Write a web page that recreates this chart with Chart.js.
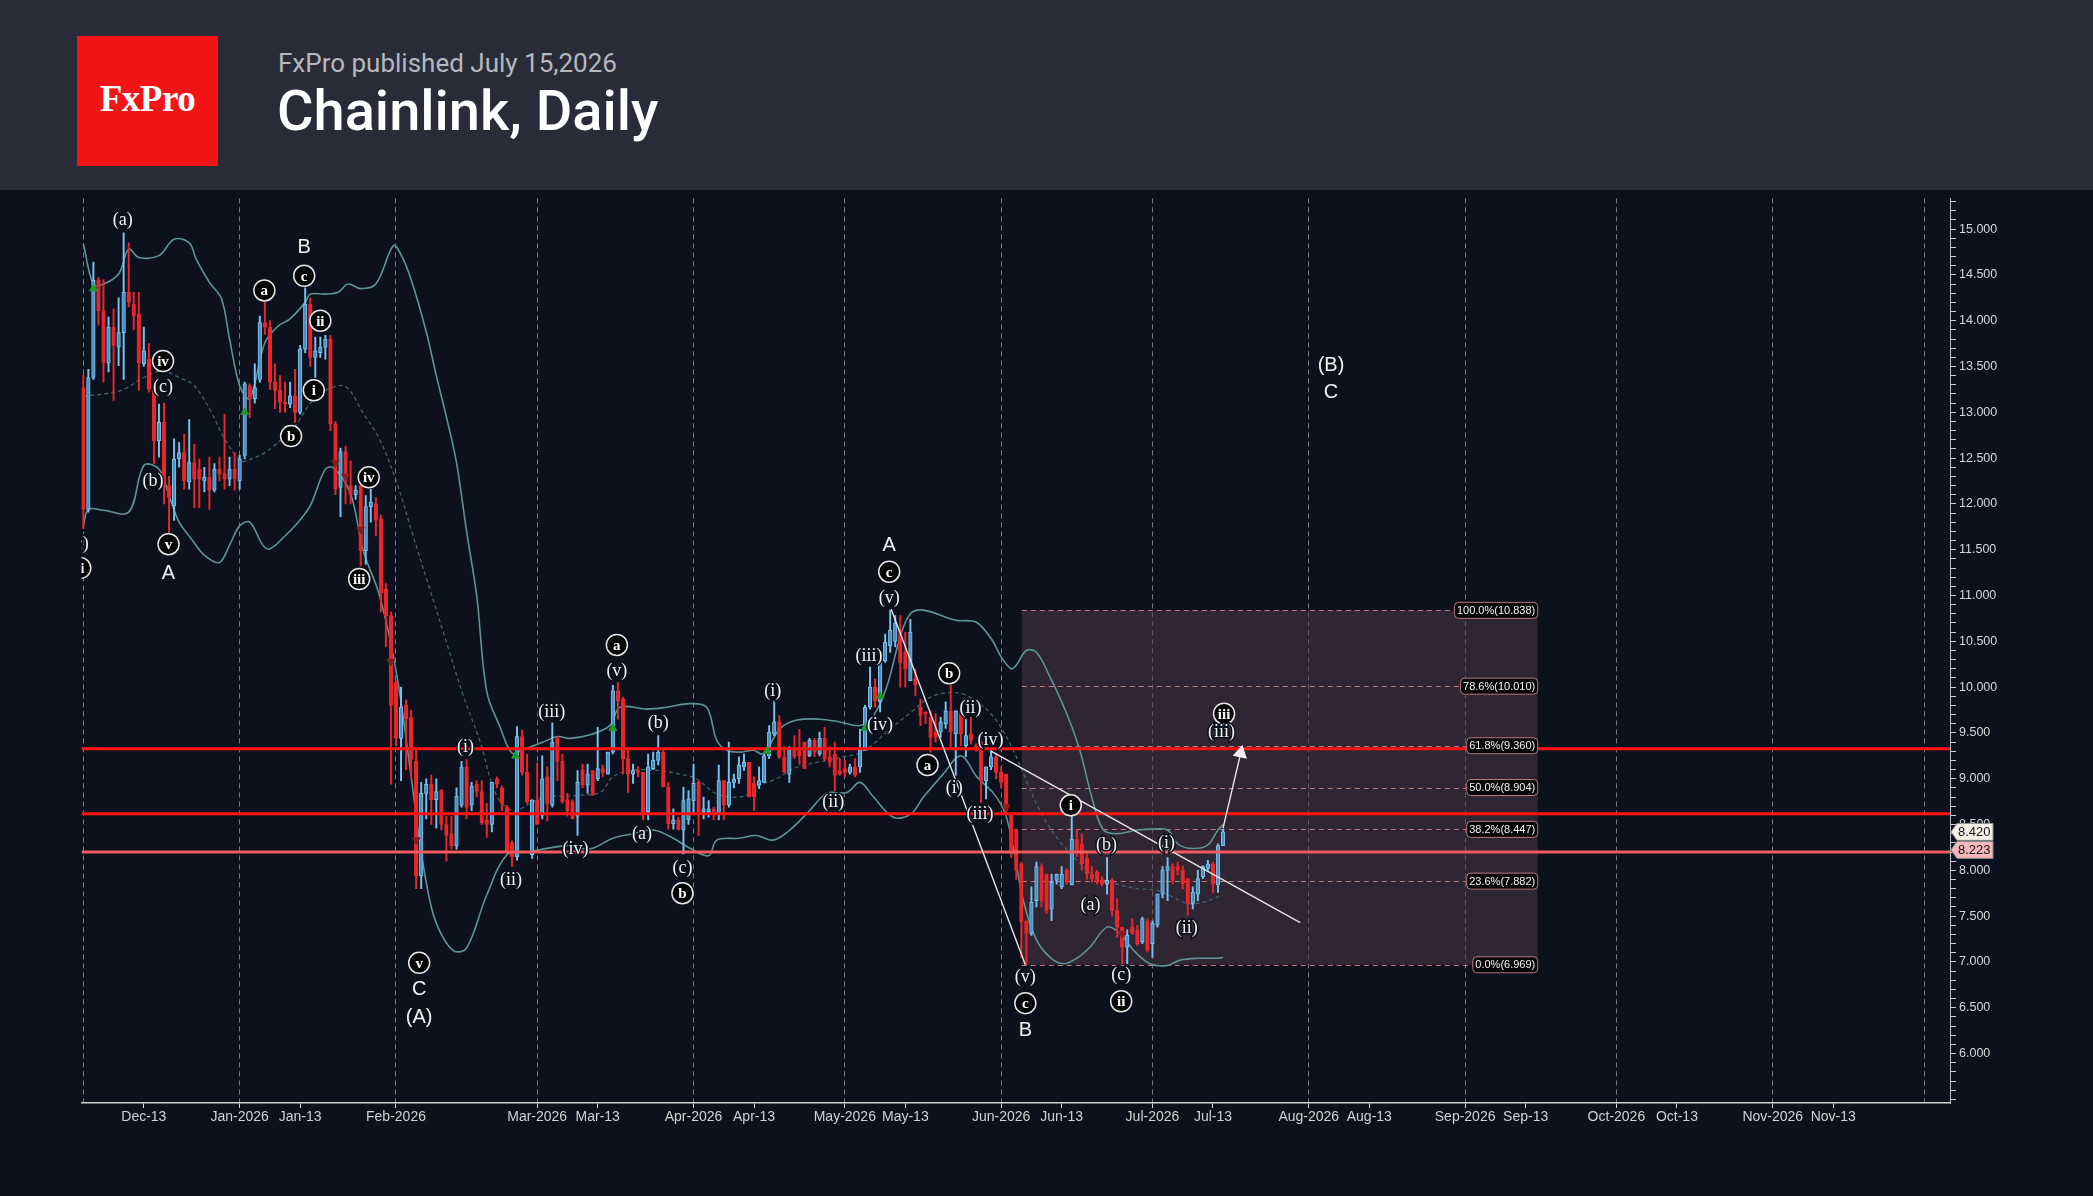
<!DOCTYPE html>
<html>
<head>
<meta charset="utf-8">
<script src="https://cdn.jsdelivr.net/npm/chart.js@4.4.1/dist/chart.umd.min.js"></script>
<style>
  html, body { margin:0; padding:0; background:#0c111d; width:2093px; height:1196px; overflow:hidden; }
  #head { position:absolute; left:0; top:0; width:2093px; height:190px; background:#292c38; }
  #logo { position:absolute; left:77px; top:36px; width:141px; height:130px; background:#f21416; color:#fff;
          font-family:'Liberation Serif','DejaVu Serif',serif; font-weight:bold; font-size:37px; display:flex; align-items:center;
          justify-content:center; box-sizing:border-box; padding-bottom:5px; letter-spacing:-0.5px; }
  #sub { position:absolute; left:278px; top:48px; color:#b6b8be; font-family:Roboto,sans-serif; font-size:26px; line-height:30px; white-space:nowrap; }
  #title { position:absolute; left:277px; top:79px; color:#fff; font-family:Roboto,sans-serif; font-weight:500; font-size:56px; line-height:64px; white-space:nowrap; }
  #wrap { position:absolute; left:0; top:190px; width:2093px; height:1006px; }
</style>
</head>
<body>
<div id="head">
  <div id="logo">FxPro</div>
  <div id="sub">FxPro published July 15,2026</div>
  <div id="title">Chainlink, Daily</div>
</div>
<div id="wrap"><canvas id="chart" width="2093" height="1006"></canvas></div>
<script>
// daily candles, day 0 = 1 Dec 2025
const open = [
  13.27, 11.94, 13.38, 14.45, 14.11, 13.54, 13.93, 13.71, 13.87, 14.31,
  14.18, 14.07, 13.53, 13.58, 13.24, 12.69, 12.89, 12.20, 11.98, 12.49,
  12.56, 12.24, 12.45, 12.38, 12.25, 12.29, 12.15, 12.38, 12.33, 12.27,
  12.38, 12.25, 12.53, 13.29, 13.15, 13.36, 13.98, 13.93, 13.33, 13.24,
  13.11, 13.09, 13.18, 13.00, 13.69, 14.18, 13.60, 13.65, 13.71, 13.80,
  12.87, 12.18, 12.57, 12.20, 12.10, 12.20, 11.49, 11.97, 12.00, 11.84,
  11.07, 10.78, 10.05, 9.44, 9.80, 9.67, 9.19, 7.94, 8.84, 8.94,
  8.77, 8.88, 8.50, 8.40, 8.27, 8.71, 9.13, 8.71, 8.94, 8.86,
  8.55, 8.50, 9.00, 8.90, 8.69, 8.30, 8.15, 9.46, 9.07, 8.17,
  8.77, 8.60, 9.02, 8.71, 9.44, 9.19, 8.77, 8.75, 8.59, 9.10,
  8.93, 9.09, 9.00, 9.11, 9.05, 9.29, 9.96, 9.87, 9.22, 9.05,
  9.09, 9.07, 8.64, 9.11, 9.20, 9.29, 8.91, 8.51, 8.55, 8.44,
  8.55, 8.76, 8.96, 8.64, 8.64, 8.67, 8.62, 8.98, 8.71, 8.96,
  9.00, 9.13, 9.18, 8.95, 8.93, 8.96, 9.25, 9.49, 9.62, 9.24,
  9.05, 9.31, 9.31, 9.40, 9.25, 9.42, 9.27, 9.44, 9.24, 9.27,
  9.09, 9.11, 9.07, 9.13, 9.13, 9.31, 9.78, 10.00, 9.84, 10.29,
  10.45, 10.50, 10.62, 10.38, 10.07, 10.09, 9.78, 9.73, 9.67, 9.51,
  9.51, 9.60, 9.74, 9.49, 9.73, 9.36, 9.49, 9.36, 9.40, 8.98,
  9.13, 9.24, 9.07, 9.05, 8.62, 8.45, 8.07, 7.45, 7.31, 7.67,
  8.04, 7.96, 7.58, 7.89, 7.82, 8.00, 7.84, 8.34, 8.29, 8.13,
  7.96, 7.98, 7.89, 7.85, 7.89, 7.56, 7.38, 7.16, 7.38, 7.35,
  7.22, 7.45, 7.20, 7.40, 7.74, 8.00, 8.04, 8.04, 8.00, 7.91,
  7.64, 7.74, 7.93, 8.02, 8.07, 7.84, 8.27
];
const high = [
  13.41, 13.47, 14.64, 14.47, 14.45, 14.04, 14.13, 14.25, 14.96, 14.85,
  14.31, 14.31, 13.93, 13.75, 13.24, 13.09, 13.10, 12.30, 12.71, 12.67,
  12.76, 12.92, 12.65, 12.49, 12.40, 12.51, 12.44, 12.51, 12.98, 12.51,
  12.56, 12.53, 13.33, 13.31, 13.53, 14.05, 14.20, 14.00, 13.53, 13.40,
  13.33, 13.33, 13.47, 13.73, 14.36, 14.25, 13.82, 13.82, 13.84, 13.84,
  12.90, 12.61, 12.63, 12.47, 12.20, 12.22, 12.09, 12.16, 12.07, 11.88,
  11.13, 10.82, 10.07, 10.00, 9.86, 9.75, 9.32, 8.96, 9.00, 9.04,
  9.00, 8.88, 8.59, 8.59, 8.90, 9.19, 9.21, 8.96, 8.98, 8.98,
  8.73, 8.96, 9.02, 8.92, 8.71, 8.32, 9.57, 9.53, 9.27, 8.77,
  9.17, 9.25, 9.13, 9.61, 9.46, 9.27, 8.84, 8.77, 9.09, 9.16,
  9.16, 9.09, 9.56, 9.15, 9.29, 10.02, 10.05, 9.89, 9.31, 9.16,
  9.13, 9.07, 9.27, 9.29, 9.47, 9.31, 8.96, 8.67, 8.58, 8.91,
  8.87, 9.16, 8.98, 8.80, 8.76, 8.69, 9.15, 8.98, 9.40, 9.05,
  9.24, 9.27, 9.18, 9.02, 9.13, 9.29, 9.58, 9.85, 9.69, 9.35,
  9.35, 9.47, 9.54, 9.40, 9.44, 9.44, 9.51, 9.56, 9.35, 9.40,
  9.22, 9.20, 9.16, 9.22, 9.54, 9.80, 10.22, 10.09, 10.31, 10.58,
  10.84, 10.78, 10.78, 10.60, 10.74, 10.20, 9.87, 9.73, 9.74, 9.71,
  9.67, 9.84, 10.02, 9.74, 9.80, 9.65, 9.67, 9.38, 9.42, 9.13,
  9.31, 9.27, 9.13, 9.05, 8.62, 8.45, 8.09, 7.45, 7.82, 8.09,
  8.07, 7.96, 7.96, 7.96, 8.04, 8.02, 8.60, 8.45, 8.40, 8.18,
  8.04, 8.00, 7.93, 8.14, 7.91, 7.69, 7.38, 7.35, 7.47, 7.40,
  7.49, 7.47, 7.45, 7.74, 8.04, 8.14, 8.07, 8.09, 8.05, 7.91,
  7.82, 8.00, 8.05, 8.11, 8.09, 8.29, 8.45
];
const low = [
  11.73, 11.91, 13.36, 13.95, 13.33, 13.44, 13.13, 13.51, 13.36, 14.15,
  13.90, 13.24, 13.50, 13.22, 12.44, 12.51, 12.00, 11.69, 11.82, 12.40,
  12.16, 12.16, 11.96, 11.96, 12.13, 11.94, 12.13, 12.25, 12.16, 12.20,
  12.15, 12.16, 12.49, 12.94, 13.10, 13.33, 13.85, 13.25, 13.04, 13.00,
  13.00, 13.05, 12.89, 12.98, 13.65, 13.50, 13.38, 13.60, 13.58, 12.80,
  12.10, 11.86, 12.00, 12.00, 12.05, 11.32, 11.34, 11.80, 11.65, 10.82,
  10.44, 8.94, 9.36, 8.98, 9.10, 9.00, 7.80, 7.80, 8.56, 8.50,
  8.46, 8.44, 8.10, 8.23, 8.23, 8.69, 8.56, 8.65, 8.80, 8.50,
  8.36, 8.42, 8.90, 8.65, 8.19, 8.04, 8.11, 9.04, 8.73, 8.13,
  8.50, 8.56, 8.54, 8.69, 8.98, 8.73, 8.59, 8.56, 8.38, 8.90,
  8.84, 8.82, 8.98, 9.02, 9.05, 9.27, 9.65, 9.05, 8.85, 8.95,
  9.02, 8.55, 8.55, 9.10, 9.15, 8.91, 8.45, 8.45, 8.44, 8.18,
  8.50, 8.62, 8.38, 8.56, 8.58, 8.55, 8.55, 8.55, 8.69, 8.90,
  8.95, 9.09, 8.80, 8.65, 8.89, 8.96, 9.22, 9.47, 9.22, 9.07,
  8.96, 9.22, 9.16, 9.11, 9.24, 9.24, 9.25, 9.20, 9.13, 8.87,
  9.04, 9.02, 9.05, 9.02, 9.07, 9.31, 9.76, 9.78, 9.73, 10.27,
  10.38, 10.44, 10.00, 10.00, 10.07, 9.91, 9.58, 9.60, 9.29, 9.40,
  9.45, 9.55, 9.34, 9.04, 9.36, 9.24, 9.38, 9.30, 8.74, 8.78,
  9.10, 9.00, 8.90, 8.62, 8.14, 7.90, 7.05, 6.97, 7.29, 7.60,
  7.60, 7.53, 7.45, 7.85, 7.80, 7.85, 7.84, 8.15, 8.00, 7.90,
  7.87, 7.85, 7.83, 7.74, 7.50, 7.27, 6.98, 6.98, 7.30, 7.18,
  7.20, 7.11, 7.05, 7.38, 7.70, 7.67, 7.85, 7.95, 7.80, 7.51,
  7.58, 7.67, 7.91, 8.00, 7.76, 7.76, 8.27
];
const close = [
  11.94, 13.38, 14.44, 14.11, 13.54, 13.93, 13.73, 13.87, 14.31, 14.20,
  14.05, 13.54, 13.67, 13.25, 12.69, 12.89, 12.20, 12.07, 12.49, 12.56,
  12.25, 12.45, 12.27, 12.27, 12.29, 12.15, 12.38, 12.33, 12.27, 12.38,
  12.27, 12.49, 13.31, 13.15, 13.27, 13.98, 13.93, 13.33, 13.24, 13.11,
  13.09, 13.18, 13.00, 13.69, 14.18, 13.60, 13.67, 13.71, 13.80, 12.87,
  12.16, 12.57, 12.24, 12.10, 12.15, 11.49, 11.97, 12.02, 11.82, 11.03,
  10.78, 9.80, 9.44, 9.78, 9.65, 9.21, 7.94, 8.84, 8.94, 8.77,
  8.86, 8.50, 8.38, 8.27, 8.81, 9.13, 8.69, 8.92, 8.86, 8.52,
  8.50, 8.96, 8.94, 8.73, 8.19, 8.15, 9.46, 9.07, 8.75, 8.77,
  8.50, 9.00, 8.73, 9.40, 9.19, 8.75, 8.65, 8.56, 8.96, 8.93,
  9.05, 8.82, 9.11, 9.07, 9.29, 9.96, 9.85, 9.22, 9.05, 9.09,
  9.07, 8.64, 9.13, 9.20, 9.29, 8.91, 8.51, 8.55, 8.44, 8.76,
  8.78, 8.95, 8.62, 8.67, 8.67, 8.64, 8.98, 8.71, 8.96, 9.00,
  9.15, 9.18, 8.80, 8.80, 8.98, 9.25, 9.51, 9.62, 9.24, 9.07,
  9.31, 9.24, 9.25, 9.11, 9.42, 9.29, 9.44, 9.22, 9.18, 9.04,
  9.05, 9.07, 9.13, 9.04, 9.31, 9.78, 10.00, 9.85, 10.29, 10.49,
  10.62, 10.70, 10.27, 10.20, 10.60, 10.02, 9.69, 9.71, 9.45, 9.45,
  9.62, 9.74, 9.51, 9.74, 9.49, 9.47, 9.42, 9.31, 8.98, 9.13,
  9.24, 9.07, 8.96, 8.65, 8.18, 8.00, 7.44, 7.31, 7.65, 8.04,
  7.67, 7.56, 7.87, 7.96, 7.96, 7.87, 8.34, 8.20, 8.07, 7.96,
  7.91, 7.87, 7.85, 7.89, 7.56, 7.38, 7.16, 7.29, 7.31, 7.20,
  7.47, 7.13, 7.42, 7.74, 8.00, 8.04, 7.89, 8.00, 7.85, 7.64,
  7.76, 7.91, 8.04, 8.07, 7.85, 8.27, 8.42
];

// bollinger bands: [day, value]
const upperBand = [
  [0,14.84],[2,14.40],[4,14.40],[7,14.51],[9,14.78],[11,14.69],[15,14.71],[18,14.89],[21,14.85],
  [22.4,14.67],[25,14.42],[27.4,14.24],[29,13.80],[31,13.29],[33,13.15],[36,13.76],[38.6,13.94],
  [41,14.02],[44,14.20],[45,14.29],[48,14.29],[50.5,14.31],[52.5,14.40],[55,14.35],[58,14.40],
  [61.5,14.82],[63,14.72],[65,14.45],[68,13.88],[70,13.40],[72,12.95],[74,12.45],[76,11.70],
  [78,11.00],[80,9.95],[82.6,9.57],[85,9.28],[87.3,9.32],[91.2,9.40],[94,9.46],[96.5,9.44],
  [100.5,9.48],[104.4,9.58],[106.4,9.78],[111.7,9.76],[115.7,9.78],[120.3,9.82],[123.6,9.78],
  [125.6,9.42],[127.6,9.31],[130.2,9.29],[132.9,9.31],[134.8,9.27],[138.2,9.55],[141.5,9.64],
  [146.1,9.65],[150,9.62],[154,9.58],[156.7,9.69],[159.3,10.00],[162,10.55],[164,10.80],
  [166.6,10.84],[173,10.73],[177,10.71],[180,10.53],[182,10.33],[184,10.20],[185,10.24],
  [187,10.40],[189,10.38],[191.7,10.11],[195,9.71],[197.6,9.31],[200.3,8.73],[202.3,8.44],
  [205,8.40],[209,8.44],[212.2,8.45],[215,8.44],[217,8.29],[219.4,8.24],[222.8,8.27],[225,8.44],[226,8.50]
];
const middleBand = [
  [0,13.18],[4,13.20],[8,13.25],[12,13.38],[15.5,13.45],[19,13.38],[22,13.29],[25.4,13.00],
  [28,12.71],[31.3,12.47],[33.3,12.49],[36,12.56],[38.6,12.67],[42,12.85],[45.2,13.11],
  [48.5,13.25],[52,13.28],[55.5,12.99],[58.8,12.70],[62.1,12.24],[65.4,11.65],[68.7,11.07],
  [72,10.49],[75.4,9.90],[78.7,9.40],[82,8.81],[85.3,8.65],[88.6,8.73],[91.9,8.81],[95.2,8.81],
  [98.5,8.82],[102.5,8.85],[105,9.02],[108.4,9.09],[113.7,9.09],[118.3,9.05],[121.6,9.00],
  [125,8.85],[128.2,8.80],[131.5,8.82],[134.2,8.93],[137.5,9.00],[140.8,9.11],[144,9.16],
  [147.4,9.20],[150.7,9.24],[153.4,9.27],[156.7,9.38],[159.3,9.51],[164,9.72],[168,9.89],
  [173,9.94],[177,9.85],[181,9.64],[184.4,9.31],[187,8.98],[189.7,8.65],[193,8.36],[197,8.11],
  [201,7.93],[205,7.85],[209,7.80],[213,7.78],[216,7.71],[218.8,7.64],[222,7.65],[225,7.71],[226,7.73]
];
const lowerBand = [
  [0,11.75],[1,11.94],[4,11.93],[9,11.91],[12,12.42],[15,12.38],[17,12.09],[19,11.80],[21.4,11.62],
  [24,11.44],[27,11.36],[29,11.55],[31,11.76],[33,11.80],[35.6,11.55],[37,11.51],[40,11.65],
  [42.6,11.80],[45,11.98],[48,12.38],[49.7,12.39],[53,12.11],[55.5,11.49],[58.8,10.99],
  [62.1,10.15],[64.8,9.11],[67,8.20],[69,7.60],[71,7.30],[73.5,7.12],[76,7.15],[80,7.73],
  [84,8.17],[88,8.20],[92,8.24],[96,8.27],[98.5,8.24],[101,8.24],[105,8.35],[109,8.40],
  [113,8.44],[117,8.35],[120.3,8.24],[124,8.16],[125.6,8.33],[130,8.35],[133.5,8.38],
  [136.8,8.33],[140.1,8.44],[144,8.65],[147.4,8.84],[151.4,8.85],[154,8.96],[156.7,8.80],
  [160.6,8.58],[164,8.61],[166.6,8.80],[170.5,9.05],[174,9.25],[177.2,9.02],[180.5,8.84],
  [182.8,8.62],[184.4,8.25],[186.4,7.67],[189,7.24],[191.7,7.05],[194.3,6.98],[197,7.04],
  [199.6,7.16],[203,7.38],[205.6,7.31],[208.2,7.13],[211.5,6.98],[214.8,6.96],[217.5,7.02],
  [221.4,7.04],[225,7.04],[226,7.05]
];

const levelLines = [9.327, 8.618, 8.2];
const levelColors = ['#ff1414', '#ff1414', '#f25a5e'];
const fibLevels = [10.838, 10.010, 9.360, 8.904, 8.447, 7.882, 6.969];
const fibPct = ['100.0%', '78.6%', '61.8%', '50.0%', '38.2%', '23.6%', '0.0%'];
const fibFrom = 186.1, fibTo = 288.4;

const trendAB = [[160.2, 10.85], [186.8, 6.97]];
const trendDown = [[180, 9.30], [241.3, 7.43]];
const targetArrow = [[226, 8.46], [229.5, 9.28]];

const upArrows = [[2, 14.35], [32, 13.0], [85.7, 9.25], [105, 9.55], [135.6, 9.3], [155, 9.55], [158, 9.9]];
const downArrows = [[50, 12.45], [52, 12.3], [55, 11.72], [61, 10.28], [66, 8.33], [183, 8.69], [206, 7.31]];

const monthStarts = [0, 31, 62, 90, 121, 151, 182, 212, 243, 274, 304, 335, 365];
const tickDays = [12, 31, 43, 62, 90, 102, 121, 133, 151, 163, 182, 194, 212, 224, 243, 255, 274, 286, 304, 316, 335, 347];
const tickLabels = ['Dec-13', 'Jan-2026', 'Jan-13', 'Feb-2026', 'Mar-2026', 'Mar-13', 'Apr-2026', 'Apr-13',
  'May-2026', 'May-13', 'Jun-2026', 'Jun-13', 'Jul-2026', 'Jul-13', 'Aug-2026', 'Aug-13',
  'Sep-2026', 'Sep-13', 'Oct-2026', 'Oct-13', 'Nov-2026', 'Nov-13'];

const priceTags = [[8.420, '#f3f0e4'], [8.223, '#f5b7b9']];

// [day, value, text, kind]  c = circled, p = bracketed, L = big letter
const waveLabels = [
  [7.8, 15.10, '(a)', 'p'], [43.8, 14.80, 'B', 'L'], [43.8, 14.49, 'c', 'c'], [35.9, 14.33, 'a', 'c'],
  [47.0, 14.00, 'ii', 'c'], [15.8, 13.56, 'iv', 'c'], [15.8, 13.27, '(c)', 'p'], [13.8, 12.25, '(b)', 'p'],
  [16.9, 11.56, 'v', 'c'], [16.9, 11.24, 'A', 'L'], [41.2, 12.74, 'b', 'c'], [45.7, 13.24, 'i', 'c'],
  [-0.9, 11.56, '(c)', 'p'], [-0.6, 11.30, 'ii', 'c'], [56.6, 12.29, 'iv', 'c'], [54.7, 11.18, 'iii', 'c'],
  [66.6, 6.99, 'v', 'c'], [66.6, 6.70, 'C', 'L'], [66.6, 6.39, '(A)', 'L'],
  [75.8, 9.34, '(i)', 'p'], [84.8, 7.89, '(ii)', 'p'], [92.9, 9.73, '(iii)', 'p'], [97.6, 8.23, '(iv)', 'p'],
  [105.8, 10.46, 'a', 'c'], [105.8, 10.17, '(v)', 'p'], [114.0, 9.60, '(b)', 'p'], [110.8, 8.39, '(a)', 'p'],
  [118.8, 8.02, '(c)', 'p'], [118.8, 7.75, 'b', 'c'], [136.7, 9.96, '(i)', 'p'], [148.7, 8.74, '(ii)', 'p'],
  [155.8, 10.34, '(iii)', 'p'], [158.0, 9.58, '(iv)', 'p'], [159.8, 11.55, 'A', 'L'], [159.8, 11.26, 'c', 'c'],
  [159.8, 10.97, '(v)', 'p'], [171.7, 10.15, 'b', 'c'], [175.9, 9.77, '(ii)', 'p'], [179.9, 9.42, '(iv)', 'p'],
  [167.4, 9.15, 'a', 'c'], [172.7, 8.90, '(i)', 'p'], [177.8, 8.61, '(iii)', 'p'],
  [186.8, 6.83, '(v)', 'p'], [186.8, 6.55, 'c', 'c'], [186.8, 6.25, 'B', 'L'],
  [195.8, 8.71, 'i', 'c'], [202.9, 8.27, '(b)', 'p'], [199.7, 7.62, '(a)', 'p'], [205.8, 6.85, '(c)', 'p'],
  [205.8, 6.57, 'ii', 'c'], [214.8, 8.29, '(i)', 'p'], [218.8, 7.37, '(ii)', 'p'],
  [226.2, 9.71, 'iii', 'c'], [225.7, 9.51, '(iii)', 'p'], [247.4, 13.51, '(B)', 'L'], [247.4, 13.22, 'C', 'L']
];

const xMin = -0.36, xMax = 370.15, yMin = 5.46, yMax = 15.335;

const upCol = '#78c3f0', downCol = '#e8262b';
const isUp = i => close[i] >= open[i];
const pts = arr => arr.map(p => ({ x: p[0], y: p[1] }));

const wicks = high.map((h, i) => ({ x: i, y: [low[i], h] }));
const bodies = open.map((o, i) => ({ x: i, y: [Math.min(o, close[i]), Math.max(o, close[i])] }));

const fibPlugin = {
  id: 'fib',
  beforeDatasetsDraw(chart) {
    const { ctx, chartArea: a, scales: { x, y } } = chart;
    const x0 = x.getPixelForValue(fibFrom), x1 = x.getPixelForValue(fibTo);
    const yt = y.getPixelForValue(fibLevels[0]), yb = y.getPixelForValue(fibLevels[fibLevels.length - 1]);
    ctx.save();
    ctx.beginPath(); ctx.rect(a.left, a.top, a.width, a.height); ctx.clip();
    ctx.fillStyle = 'rgba(78,54,68,0.55)';
    ctx.fillRect(x0, yt, x1 - x0, yb - yt);
    ctx.strokeStyle = '#c07a7c'; ctx.lineWidth = 1; ctx.setLineDash([5, 4]);
    fibLevels.forEach(v => {
      const yy = Math.round(y.getPixelForValue(v)) + 0.5;
      ctx.beginPath(); ctx.moveTo(x0, yy); ctx.lineTo(x1 - 50, yy); ctx.stroke();
    });
    ctx.restore();
  },
  afterDatasetsDraw(chart) {
    const { ctx, chartArea: a, scales: { x, y } } = chart;
    const x1 = x.getPixelForValue(fibTo);
    ctx.save();
    ctx.font = '11px "Liberation Sans", Arial, sans-serif';
    ctx.textBaseline = 'middle'; ctx.textAlign = 'left';
    fibLevels.forEach((v, i) => {
      const txt = fibPct[i] + '(' + v.toFixed(3) + ')';
      const w = ctx.measureText(txt).width + 5, h = 16;
      const yy = y.getPixelForValue(v), xl = x1 - w, r = 4;
      ctx.beginPath();
      ctx.moveTo(xl + r, yy - h / 2); ctx.lineTo(xl + w - r, yy - h / 2);
      ctx.quadraticCurveTo(xl + w, yy - h / 2, xl + w, yy - h / 2 + r);
      ctx.lineTo(xl + w, yy + h / 2 - r);
      ctx.quadraticCurveTo(xl + w, yy + h / 2, xl + w - r, yy + h / 2);
      ctx.lineTo(xl + r, yy + h / 2);
      ctx.quadraticCurveTo(xl, yy + h / 2, xl, yy + h / 2 - r);
      ctx.lineTo(xl, yy - h / 2 + r);
      ctx.quadraticCurveTo(xl, yy - h / 2, xl + r, yy - h / 2);
      ctx.fillStyle = '#070707'; ctx.fill();
      ctx.strokeStyle = '#b8797b'; ctx.lineWidth = 1; ctx.stroke();
      ctx.fillStyle = '#f2f2f2'; ctx.fillText(txt, xl + 2.5, yy + 0.5);
    });

    // wave labels
    ctx.beginPath(); ctx.rect(a.left, a.top, a.width, a.height); ctx.clip();
    ctx.textAlign = 'center';
    waveLabels.forEach(([d, v, t, k]) => {
      const px = x.getPixelForValue(d), py = y.getPixelForValue(v);
      if (k === 'c') {
        ctx.beginPath(); ctx.arc(px, py, 10.5, 0, Math.PI * 2);
        ctx.fillStyle = '#050505'; ctx.fill();
        ctx.lineWidth = 1.5; ctx.strokeStyle = '#e6e6e6'; ctx.stroke();
        ctx.font = 'bold 15px "Liberation Serif", "DejaVu Serif", serif';
        ctx.fillStyle = '#ffffff'; ctx.fillText(t, px, py + 1);
      } else if (k === 'p') {
        ctx.font = '18px "Liberation Serif", "DejaVu Serif", serif';
        ctx.lineWidth = 3; ctx.strokeStyle = '#0c111d'; ctx.strokeText(t, px, py);
        ctx.fillStyle = '#f2f2f2'; ctx.fillText(t, px, py);
      } else {
        ctx.font = '20px "Liberation Sans", Arial, sans-serif';
        ctx.fillStyle = '#f2f2f2'; ctx.fillText(t, px, py);
      }
    });
    ctx.restore();
  },
  afterDraw(chart) {
    const { ctx, chartArea: a, scales: { y } } = chart;
    ctx.save();
    ctx.font = '13px "Liberation Sans", Arial, sans-serif';
    ctx.textBaseline = 'middle'; ctx.textAlign = 'left';
    priceTags.forEach(([v, col]) => {
      const yy = y.getPixelForValue(v), x0 = a.right + 1;
      ctx.beginPath();
      ctx.moveTo(x0, yy); ctx.lineTo(x0 + 6, yy - 8.5); ctx.lineTo(x0 + 42, yy - 8.5);
      ctx.lineTo(x0 + 42, yy + 8.5); ctx.lineTo(x0 + 6, yy + 8.5); ctx.closePath();
      ctx.fillStyle = col; ctx.fill();
      ctx.strokeStyle = '#8a8a8a'; ctx.lineWidth = 1; ctx.stroke();
      ctx.fillStyle = '#151515'; ctx.fillText(v.toFixed(3), x0 + 7, yy + 0.5);
    });
    ctx.restore();
  }
};

const lineSet = (data, color, width, extra) => Object.assign({
  type: 'line', data: data, borderColor: color, borderWidth: width,
  pointRadius: 0, fill: false, tension: 0
}, extra || {});

const datasets = [
  lineSet(pts(upperBand), '#5f939a', 1.6, { tension: 0.35, order: 9 }),
  lineSet(pts(lowerBand), '#5f939a', 1.6, { tension: 0.35, order: 9 }),
  lineSet(pts(middleBand), '#41646a', 1.3, { tension: 0.35, borderDash: [4, 3], order: 9 }),
  {
    type: 'bar', data: wicks, grouped: false, barThickness: 1.3, order: 8,
    backgroundColor: c => isUp(c.dataIndex) ? upCol : downCol
  },
  {
    type: 'bar', data: bodies, grouped: false, barThickness: 3.6, minBarLength: 1.5, order: 7,
    borderSkipped: false, borderWidth: 1,
    backgroundColor: c => isUp(c.dataIndex) ? 'rgba(64,128,176,0.75)' : downCol,
    borderColor: c => isUp(c.dataIndex) ? upCol : downCol
  }
];
levelLines.forEach((v, i) => {
  datasets.push(lineSet([{ x: xMin, y: v }, { x: xMax, y: v }], levelColors[i], 3, { order: 5 }));
});
datasets.push(lineSet(pts(trendAB), '#e4e4e4', 1.4, { order: 4 }));
datasets.push(lineSet(pts(trendDown), '#e4e4e4', 1.4, { order: 4 }));
datasets.push(lineSet(pts(targetArrow), '#e8e8e8', 1.4, {
  order: 4, pointRadius: [0, 7], pointStyle: 'triangle', rotation: [0, 12],
  pointBackgroundColor: '#f0f0f0', pointBorderColor: '#f0f0f0'
}));
datasets.push({
  type: 'scatter', data: pts(upArrows), pointStyle: 'triangle', pointRadius: 4.5,
  backgroundColor: '#1c9a2e', borderColor: '#1c9a2e', order: 3
});
datasets.push({
  type: 'scatter', data: pts(downArrows), pointStyle: 'triangle', pointRadius: 4.5, rotation: 180,
  backgroundColor: '#8e1c1c', borderColor: '#8e1c1c', order: 3
});

const allTicks = monthStarts.concat(tickDays.filter(d => monthStarts.indexOf(d) < 0)).sort((a, b) => a - b);

new Chart(document.getElementById('chart'), {
  type: 'bar',
  data: { datasets: datasets },
  options: {
    responsive: false,
    animation: false,
    events: [],
    layout: { padding: { left: 81.5, right: 91, top: 3.6, bottom: 63 } },
    plugins: { legend: { display: false }, tooltip: { enabled: false } },
    scales: {
      x: {
        type: 'linear', min: xMin, max: xMax, offset: false,
        afterBuildTicks: s => { s.ticks = allTicks.map(v => ({ value: v })); },
        afterFit: s => { s.height = 30; s.paddingLeft = 0; s.paddingRight = 0; },
        grid: {
          offset: false, lineWidth: 1,
          color: c => (c.tick && monthStarts.indexOf(c.tick.value) >= 0) ? '#767b86' : 'rgba(0,0,0,0)',
          drawTicks: true, tickLength: 5,
          tickColor: c => (c.tick && tickDays.indexOf(c.tick.value) >= 0) ? '#d8d8d8' : 'rgba(0,0,0,0)'
        },
        border: { display: true, color: '#cfcfcf', width: 1.5, dash: [5, 4] },
        ticks: {
          autoSkip: false, maxRotation: 0, padding: 1, color: '#d2d2d2',
          font: { family: "'Liberation Sans Narrow', 'Arial Narrow', 'Liberation Sans', sans-serif", size: 14 },
          callback: v => { const i = tickDays.indexOf(v); return i >= 0 ? tickLabels[i] : ''; }
        }
      },
      y: {
        type: 'linear', position: 'right', min: yMin, max: yMax,
        afterBuildTicks: s => {
          const t = [];
          for (let k = 55; k <= 153; k++) t.push({ value: k / 10 });
          s.ticks = t;
        },
        afterFit: s => { s.width = 52; s.paddingTop = 0; s.paddingBottom = 0; },
        grid: { drawOnChartArea: false, drawTicks: true, tickLength: 6, tickColor: '#d0d0d0' },
        border: { display: true, color: '#bdbdbd', width: 1 },
        ticks: {
          autoSkip: false, padding: 3, color: '#d8d8d8',
          font: { family: "'Liberation Sans', Arial, sans-serif", size: 12.5 },
          callback: v => (v >= 5.99 && Math.abs(v * 2 - Math.round(v * 2)) < 1e-6) ? v.toFixed(3) : ''
        }
      }
    }
  },
  plugins: [fibPlugin]
});
</script>
</body>
</html>
